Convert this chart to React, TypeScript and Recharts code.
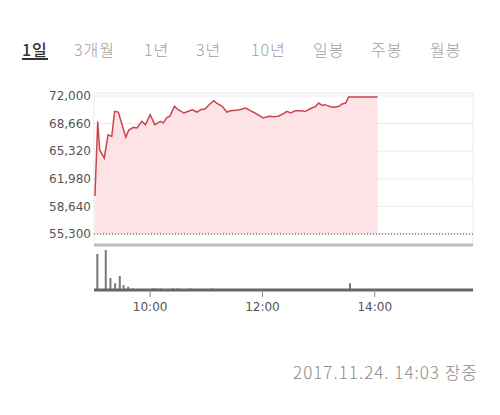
import {
  AreaChart,
  Area,
  BarChart,
  Bar,
  XAxis,
  YAxis,
  CartesianGrid,
  ReferenceLine,
} from 'recharts';

// minutes after 09:00
const priceTimes = [
  1, 4, 6, 8, 11, 15, 19, 22, 26, 30, 34, 37, 42, 46, 51, 55, 60, 65, 71, 74, 78, 81, 86, 90,
  96, 101, 105, 110, 114, 119, 123, 128, 131, 137, 142, 146, 151, 156, 162, 167, 172, 178, 181,
  187, 192, 197, 203, 206, 210, 215, 221, 226, 231, 237, 240, 244, 247, 251, 256, 262, 265, 269,
  272, 303,
];
const priceValues = [
  59900, 68900, 65500, 65100, 64500, 67300, 67100, 70150, 70060, 68530, 67000, 67850, 68200,
  68130, 68940, 68530, 69740, 68530, 68940, 68730, 69420, 69540, 70750, 70340, 69940, 70150,
  70340, 70060, 70340, 70460, 70950, 71430, 71150, 70750, 70060, 70220, 70270, 70340, 70550,
  70220, 69940, 69540, 69340, 69540, 69500, 69560, 69900, 70150, 69940, 70220, 70220, 70150,
  70460, 70750, 71150, 70870, 70950, 70750, 70630, 70750, 71030, 71150, 71880, 71880,
];

const volTimes = [4, 13, 18, 23, 28, 32, 37, 42, 63, 66, 71, 85, 90, 103, 126, 274];
const volValues = [90, 100, 30, 17, 35, 12, 8, 4, 4, 4, 4, 4, 4, 4, 4, 17];

const priceTicks = [55300, 58640, 61980, 65320, 68660, 72000];
const timeTicks = [60, 180, 300];
const timeLabels = ['10:00', '12:00', '14:00'];

const tabs = ['1일', '3개월', '1년', '3년', '10년', '일봉', '주봉', '월봉'];
const tabLefts = [22, 74, 144, 196, 251, 313, 371, 430];

const priceData = priceTimes.map((t, i) => ({ t, price: priceValues[i] }));
const volData = volTimes.map((t, i) => ({ t, vol: volValues[i] }));

const cjk = '"Noto Sans CJK KR", "Noto Sans", sans-serif';
const axisFont = { fontSize: 12, fill: '#555', fontFamily: 'DejaVu Sans, sans-serif' };

export default function App() {
  return (
    <div
      style={{
        position: 'absolute',
        left: 0,
        top: 0,
        width: 500,
        height: 415,
        background: '#fff',
        fontFamily: cjk,
      }}
    >
      {tabs.map((label, i) => (
        <span
          key={label}
          style={{
            position: 'absolute',
            left: tabLefts[i],
            top: 41,
            fontSize: 16,
            lineHeight: '16px',
            color: i === 0 ? '#333' : '#a0a0a0',
            fontWeight: i === 0 ? 500 : 300,
            letterSpacing: 1,
            borderBottom: i === 0 ? '2px solid #333' : 'none',
            paddingBottom: i === 0 ? 1 : 0,
            whiteSpace: 'nowrap',
          }}
        >
          {label}
        </span>
      ))}

      <div style={{ position: 'absolute', left: 0, top: 0 }}>
        <AreaChart
          width={500}
          height={260}
          data={priceData}
          margin={{ top: 93, right: 27, left: 0, bottom: 10 }}
        >
          <CartesianGrid stroke="#ebebeb" />
          <XAxis
            dataKey="t"
            type="number"
            domain={[0, 405]}
            ticks={timeTicks}
            tick={false}
            tickLine={false}
            height={5}
            axisLine={{ stroke: '#bbb', strokeWidth: 3 }}
          />
          <YAxis
            type="number"
            domain={[55300, 72000]}
            ticks={priceTicks}
            width={94}
            padding={{ top: 3, bottom: 11 }}
            axisLine={false}
            tickLine={false}
            tickSize={0}
            tickMargin={3}
            tick={axisFont}
            tickFormatter={(v: number) => v.toLocaleString('en-US')}
          />
          <ReferenceLine y={55300} stroke="#444" strokeDasharray="1 2" />
          <Area
            type="linear"
            dataKey="price"
            stroke="#c9464f"
            strokeWidth={1.5}
            fill="#fde3e6"
            fillOpacity={1}
            baseValue={55300}
            isAnimationActive={false}
          />
        </AreaChart>
      </div>

      <div style={{ position: 'absolute', left: 0, top: 240 }}>
        <BarChart
          width={500}
          height={80}
          data={volData}
          margin={{ top: 10, right: 27, left: 94, bottom: 5 }}
        >
          <XAxis
            dataKey="t"
            type="number"
            domain={[0, 405]}
            ticks={timeTicks}
            height={25}
            axisLine={{ stroke: '#666', strokeWidth: 3 }}
            tickLine={{ stroke: '#888' }}
            tickSize={7}
            tickMargin={5}
            tick={axisFont}
            tickFormatter={(v: number) => timeLabels[timeTicks.indexOf(v)]}
          />
          <YAxis hide domain={[0, 100]} />
          <Bar dataKey="vol" fill="#777" barSize={2} isAnimationActive={false} />
        </BarChart>
      </div>

      <div
        style={{
          position: 'absolute',
          right: 22,
          top: 363,
          fontSize: 17,
          lineHeight: '18px',
          letterSpacing: 1,
          color: '#8a8a8a',
          fontWeight: 300,
          whiteSpace: 'nowrap',
        }}
      >
        2017.11.24. 14:03 장중
      </div>
    </div>
  );
}
